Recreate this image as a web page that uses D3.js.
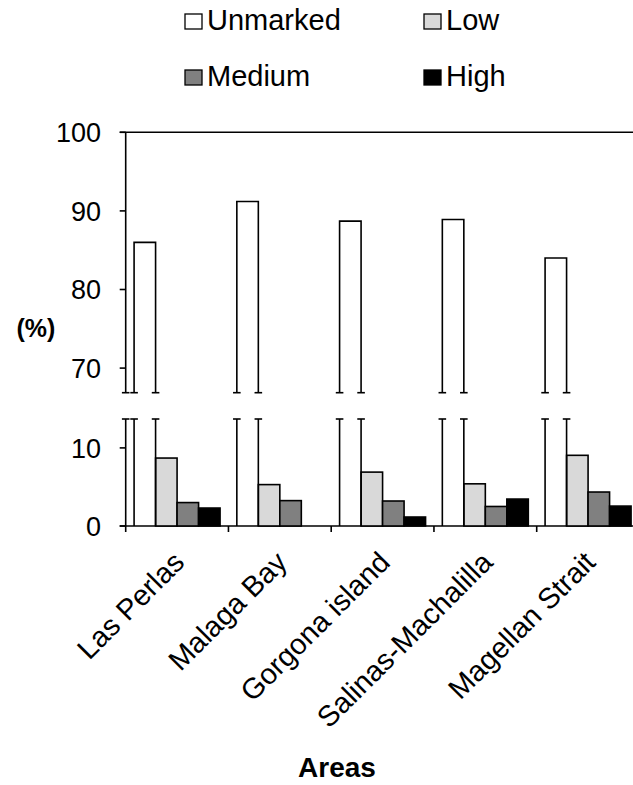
<!DOCTYPE html>
<html><head><meta charset="utf-8">
<script src="https://cdn.jsdelivr.net/npm/d3@7"></script>
<style>html,body{margin:0;padding:0;background:#fff;}svg{display:block;font-family:"Liberation Sans",Arial,sans-serif;}</style>
</head><body>
<script>
const categories = ["Las Perlas","Malaga Bay","Gorgona island","Salinas-Machalilla","Magellan Strait"];
const seriesNames = ["Unmarked","Low","Medium","High"];
const unmarked = [86.0, 91.2, 88.7, 88.9, 84.0];
const low = [8.7, 5.3, 6.9, 5.4, 9.05];
const medium = [3.0, 3.25, 3.2, 2.5, 4.35];
const high = [2.3, 0, 1.15, 3.45, 2.55];
const upperTicks = [70, 80, 90, 100];
const lowerTicks = [0, 10];
const colors = {Unmarked:"#ffffff", Low:"#d9d9d9", Medium:"#808080", High:"#000000"};

const W = 633, H = 785;
const svg = d3.select("body").append("svg").attr("width", W).attr("height", H);

const axisX = 125.7;
const step = 102.75;
const x0 = d3.scaleBand().domain(categories).range([axisX, axisX + step * categories.length]).padding(0);
const x1 = d3.scaleBand().domain(seriesNames).range([0, x0.bandwidth()]).paddingInner(0).paddingOuter(0.39);

const yUp = d3.scaleLinear().domain([66.87, 100]).range([392.7, 132.3]);
const yLo = d3.scaleLinear().domain([0, 13.7]).range([526, 419]);

const sw = 1.6, cap = 3.8;
const g = svg.append("g").attr("stroke", "#000").attr("stroke-width", sw).attr("fill", "none");

// top line
g.append("line").attr("x1", axisX - 6).attr("x2", W + 10).attr("y1", yUp(100)).attr("y2", yUp(100));

// y axes (upper / lower) with break caps
g.append("line").attr("x1", axisX).attr("x2", axisX).attr("y1", yUp(100)).attr("y2", yUp.range()[0]);
g.append("line").attr("x1", axisX - cap).attr("x2", axisX + cap).attr("y1", yUp.range()[0]).attr("y2", yUp.range()[0]);
g.append("line").attr("x1", axisX).attr("x2", axisX).attr("y1", yLo.range()[1]).attr("y2", yLo(0));
g.append("line").attr("x1", axisX - cap).attr("x2", axisX + cap).attr("y1", yLo.range()[1]).attr("y2", yLo.range()[1]);

upperTicks.forEach(t => {
  g.append("line").attr("x1", axisX - 6).attr("x2", axisX).attr("y1", yUp(t)).attr("y2", yUp(t));
});
lowerTicks.forEach(t => {
  g.append("line").attr("x1", axisX - 6).attr("x2", axisX).attr("y1", yLo(t)).attr("y2", yLo(t));
});

const tickFont = 27;
svg.selectAll("text.yu").data(upperTicks).enter().append("text")
  .attr("x", 101).attr("y", d => yUp(d)).attr("dy", "0.36em")
  .attr("text-anchor", "end").attr("font-size", tickFont).text(d => d);
svg.selectAll("text.yl").data(lowerTicks).enter().append("text")
  .attr("x", 101).attr("y", d => yLo(d)).attr("dy", "0.36em")
  .attr("text-anchor", "end").attr("font-size", tickFont).text(d => d);

// bars
const groups = svg.selectAll("g.cat").data(categories).enter().append("g")
  .attr("transform", d => `translate(${x0(d)},0)`);

const lowerSeries = [["Low", low], ["Medium", medium], ["High", high]];
lowerSeries.forEach(([name, arr]) => {
  groups.append("rect")
    .attr("x", x1(name)).attr("width", x1.bandwidth())
    .attr("y", (d, i) => yLo(arr[i]))
    .attr("height", (d, i) => yLo(0) - yLo(arr[i]))
    .attr("fill", colors[name]).attr("stroke", "#000").attr("stroke-width", sw);
});

// Unmarked broken bars
groups.each(function(d, i) {
  const gg = d3.select(this).append("g").attr("stroke", "#000").attr("stroke-width", sw).attr("fill", "none");
  const xl = x1("Unmarked"), xr = xl + x1.bandwidth();
  const top = yUp(unmarked[i]), bu = yUp.range()[0], tl = yLo.range()[1], b0 = yLo(0);
  gg.append("path").attr("fill", "#fff").attr("d", `M${xl},${bu}V${top}H${xr}V${bu}`);
  [xl, xr].forEach(xx => {
    gg.append("line").attr("x1", xx - cap).attr("x2", xx + cap).attr("y1", bu).attr("y2", bu);
    gg.append("line").attr("x1", xx).attr("x2", xx).attr("y1", tl).attr("y2", b0);
    gg.append("line").attr("x1", xx - cap).attr("x2", xx + cap).attr("y1", tl).attr("y2", tl);
  });
});

// x axis
g.append("line").attr("x1", axisX - 6).attr("x2", W + 10).attr("y1", yLo(0)).attr("y2", yLo(0));
categories.concat(["_end"]).forEach((c, i) => {
  const xx = axisX + i * step;
  g.append("line").attr("x1", xx).attr("x2", xx).attr("y1", yLo(0)).attr("y2", yLo(0) + 6);
});

// x labels
svg.selectAll("text.xl").data(categories).enter().append("text")
  .attr("transform", d => `translate(${x0(d) + x0.bandwidth() / 2 + 9},${564}) rotate(-45)`)
  .attr("text-anchor", "end").attr("font-size", 29).text(d => d);

// axis titles
svg.append("text").attr("x", 36).attr("y", 337).attr("text-anchor", "middle")
  .attr("font-size", 25).attr("font-weight", "bold").text("(%)");
svg.append("text").attr("x", 337).attr("y", 777).attr("text-anchor", "middle")
  .attr("font-size", 28).attr("font-weight", "bold").text("Areas");

// legend
const legendPos = [[185, 14], [424, 14], [185, 70], [424, 70]];
seriesNames.forEach((name, i) => {
  const [lx, ly] = legendPos[i];
  svg.append("rect").attr("x", lx).attr("y", ly).attr("width", 17).attr("height", 15)
    .attr("fill", colors[name]).attr("stroke", "#000").attr("stroke-width", 1.3);
  svg.append("text").attr("x", lx + 22).attr("y", ly + 16).attr("font-size", 29).text(name);
});
</script>
</body></html>
